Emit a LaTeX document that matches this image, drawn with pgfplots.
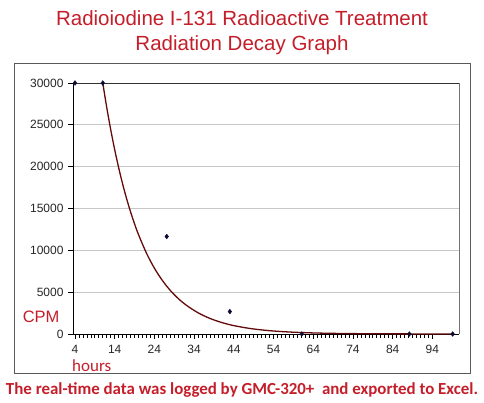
\documentclass[border=0pt]{standalone}
\usepackage{pgfplots}
\pgfplotsset{compat=1.18}
\usepackage{fontspec}
\setmainfont{Liberation Sans}
\newfontfamily\captfont{Carlito}
\definecolor{tred}{RGB}{196,30,42}
\definecolor{crvred}{RGB}{100,10,10}
\definecolor{mk}{RGB}{10,10,50}
\begin{document}
\begin{tikzpicture}[x=1pt,y=1pt]
\path[use as bounding box] (0pt,0pt) rectangle (484pt,403pt);
\draw[black!65, line width=0.9pt] (14pt,30pt) rectangle (470pt,340pt);
\node[tred, font=\fontsize{20.5}{25}\selectfont, align=center] at (242pt,370.5pt) {Radioiodine I-131 Radioactive Treatment\\Radiation Decay Graph};
\node[tred, anchor=base] at (242pt,8pt) {\resizebox{472pt}{!}{\captfont\bfseries The real-time data was logged by GMC-320+\ \ and exported to Excel.}};
\node[tred, font=\fontsize{16.5}{18}\selectfont, anchor=east] at (63pt,86pt) {CPM};
\node[tred, font=\captfont\fontsize{17}{18}\selectfont, anchor=west, inner sep=0pt] at (72pt,37pt) {hours};
\begin{axis}[
  at={(73pt,69pt)}, anchor=south west,
  scale only axis, width=386pt, height=251pt,
  xmin=3.5, xmax=100.7, ymin=0, ymax=30000,
  xtick={4,14,...,94}, minor x tick num=9,
  ytick={0,5000,...,30000},
  scaled y ticks=false,
  ymajorgrids, grid style={black!22, line width=0.8pt},
  axis lines=left, axis line style={black, line width=0.9pt, -},
  tick align=outside, tick style={black, line width=0.7pt},
  major tick length=5pt, minor tick length=4pt,
  xticklabel style={yshift=-3pt},
  yticklabel style={xshift=-1pt},
  ticklabel style={font=\fontsize{12}{14}\selectfont, text=black!85},
  /pgf/number format/.cd, 1000 sep={}, assume math mode=true,
  /pgfplots/.cd,
  clip=false,
]
\draw[black!55, line width=0.9pt] (rel axis cs:0,1) -- (rel axis cs:1,1) -- (rel axis cs:1,0);
\draw[black!80, line width=0.9pt] (rel axis cs:0,1) -- (rel axis cs:1,1);
\addplot[crvred, line width=1.3pt, smooth, no marks] coordinates {
 (11,30000) (12,27064) (13,24415) (14,22026) (15,19871) (16,17926) (17,16172)
 (18,14589) (19,13161) (20,11873) (22,9663) (24,7864) (26,6400) (28,5208)
 (30,4238) (32,3449) (35,2532) (38,1859) (41,1365) (44,1002) (48,664)
 (52,440) (56,291) (60,193) (65,115) (70,69) (75,41) (80,25) (90,9) (99,3.5)
};
\addplot[only marks, mark=diamond*, mark size=2.4pt, mk] coordinates {
 (4,30000) (11,30000) (27.1,11650) (43,2680) (61.1,0) (88.2,0) (99.1,0)
};
\end{axis}
\end{tikzpicture}
\end{document}
